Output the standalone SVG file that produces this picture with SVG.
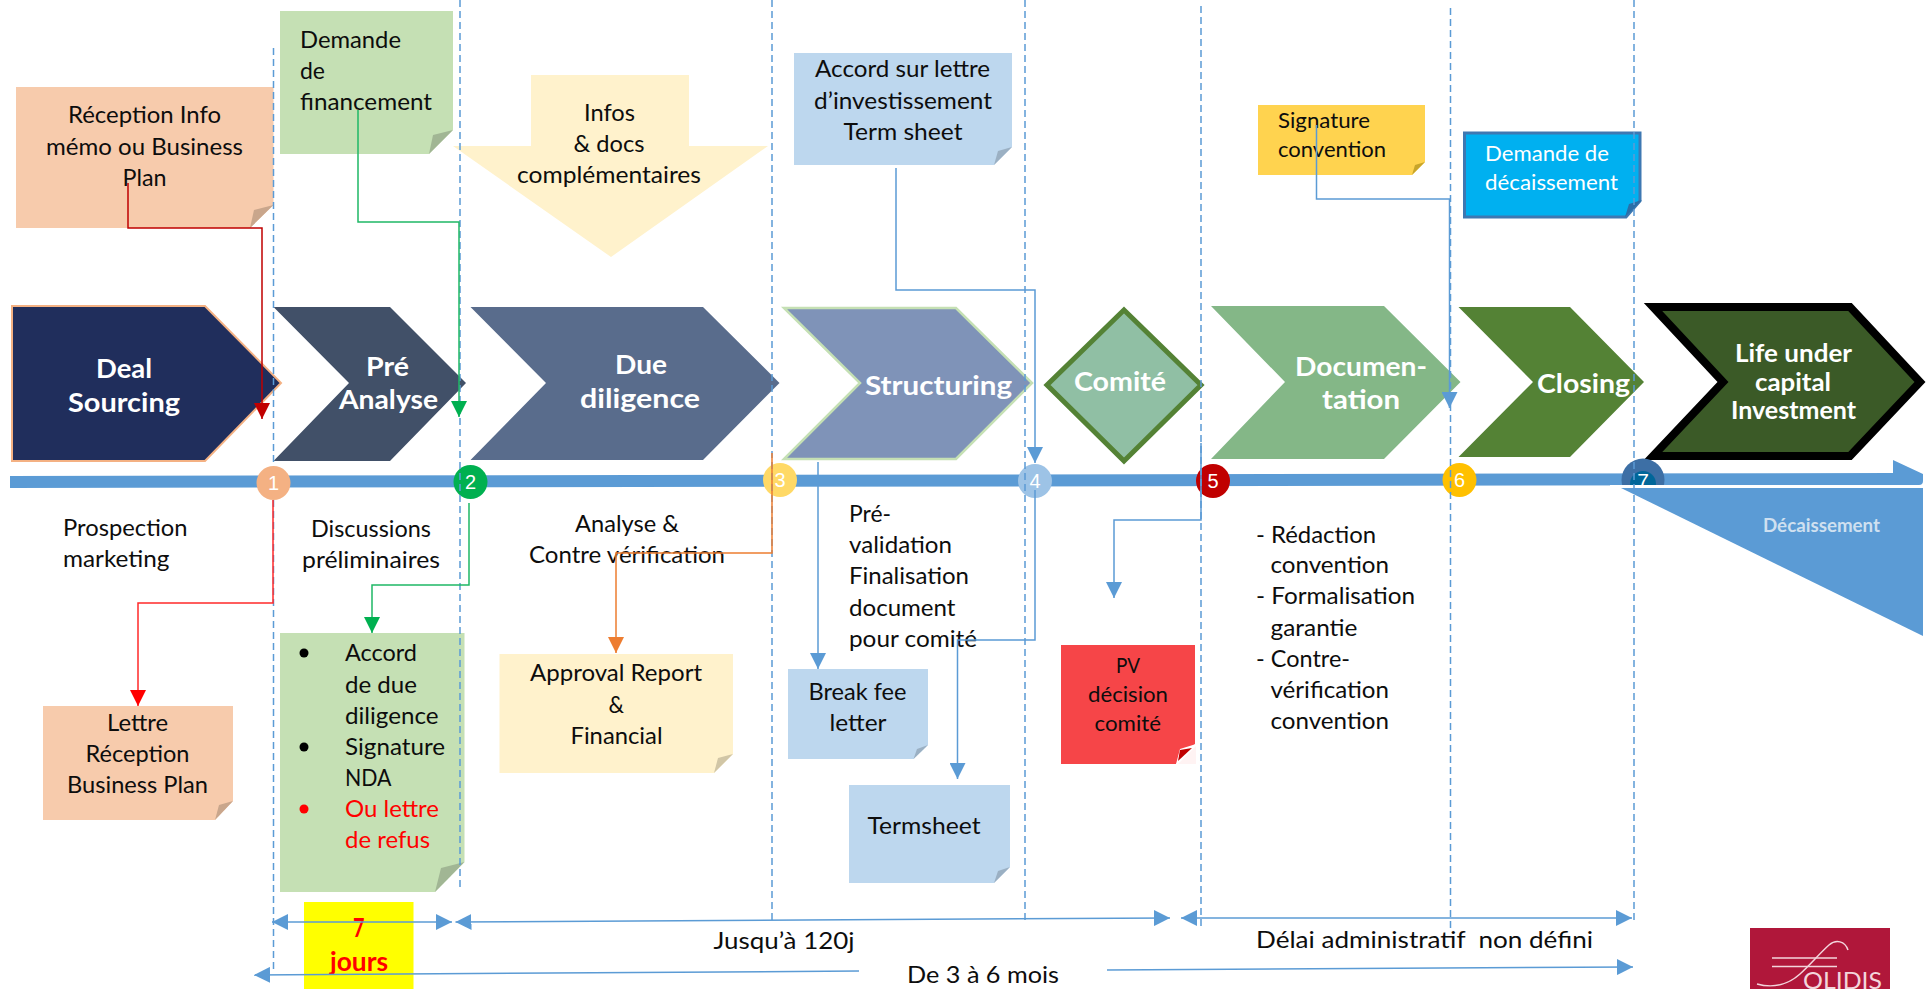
<svg xmlns="http://www.w3.org/2000/svg" width="1928" height="989" viewBox="0 0 1928 989">
<style>
text{font-family:Lato,"Noto Sans","Liberation Sans",sans-serif;font-size:24px;fill:#0d0d0d;white-space:pre}
.c{font-weight:700;font-size:27px;fill:#fff}
.n{font-family:"Liberation Sans",Arial,sans-serif;font-size:20px;fill:#fff;text-anchor:middle}
.v{fill:none;stroke:#5b9bd5;stroke-width:1.5;stroke-dasharray:7 4}
.l{fill:none;stroke:#5b9bd5;stroke-width:1.5}
.peach{fill:#f7cbac}.pf{fill:#c9a68c}
.green{fill:#c5e0b4}.gf{fill:#a1b694}
.blue{fill:#bdd7ee}.bf{fill:#9bb0c3}
.cream{fill:#fff2cc}.cf{fill:#d1c6a6}
</style>
<defs>
<marker id="aB" markerUnits="userSpaceOnUse" markerWidth="16" markerHeight="16" refX="16" refY="8" orient="auto-start-reverse"><path d="M0 0L16 8L0 16Z" fill="#5b9bd5"/></marker>
<marker id="aR" markerUnits="userSpaceOnUse" markerWidth="16" markerHeight="16" refX="16" refY="8" orient="auto"><path d="M0 0L16 8L0 16Z" fill="#ff0000"/></marker>
<marker id="aD" markerUnits="userSpaceOnUse" markerWidth="16" markerHeight="16" refX="16" refY="8" orient="auto"><path d="M0 0L16 8L0 16Z" fill="#c00000"/></marker>
<marker id="aG" markerUnits="userSpaceOnUse" markerWidth="16" markerHeight="16" refX="16" refY="8" orient="auto"><path d="M0 0L16 8L0 16Z" fill="#00b050"/></marker>
<marker id="aO" markerUnits="userSpaceOnUse" markerWidth="16" markerHeight="16" refX="16" refY="8" orient="auto"><path d="M0 0L16 8L0 16Z" fill="#ed7d31"/></marker>
</defs>
<rect width="1928" height="989" fill="#fff"/>

<g id="note-reception"><polygon class="peach" points="16,87 273.5,87 273.5,205 250,228 16,228"/><polygon class="pf" points="273.5,205 254,210 250,228"/>
<text x="68" y="123" textLength="153" lengthAdjust="spacingAndGlyphs">Réception Info</text><text x="46" y="155" textLength="197" lengthAdjust="spacingAndGlyphs">mémo ou Business</text><text x="122.500" y="186" textLength="44" lengthAdjust="spacingAndGlyphs">Plan</text></g>
<g id="note-demande"><polygon class="green" points="280,11 453,11 453,130 429,154 280,154"/><polygon class="gf" points="453,130 433,135 429,154"/>
<text x="300" y="48" textLength="101" lengthAdjust="spacingAndGlyphs">Demande</text><text x="300" y="79" textLength="25" lengthAdjust="spacingAndGlyphs">de</text><text x="300" y="110" textLength="132" lengthAdjust="spacingAndGlyphs">financement</text></g>
<g id="arrow-infos"><polygon points="531,75 689,75 689,146 768,146 611,257 453,146 531,146" fill="#fff2cc"/>
<text x="584" y="121" textLength="51" lengthAdjust="spacingAndGlyphs">Infos</text><text x="573.500" y="152" textLength="71" lengthAdjust="spacingAndGlyphs">&amp; docs</text><text x="517" y="183" textLength="184" lengthAdjust="spacingAndGlyphs">complémentaires</text></g>
<g id="note-accord-lettre"><polygon class="blue" points="794,53 1012,53 1012,147 994,165 794,165"/><polygon class="bf" points="1012,147 998,151 994,165"/>
<text x="815" y="77" textLength="175" lengthAdjust="spacingAndGlyphs">Accord sur lettre</text><text x="814" y="109" textLength="178" lengthAdjust="spacingAndGlyphs">d’investissement</text><text x="843.500" y="140" textLength="119" lengthAdjust="spacingAndGlyphs">Term sheet</text></g>
<g id="note-signature"><polygon points="1258,105 1425,105 1425,162 1412,175 1258,175" fill="#ffd34f"/><polygon points="1425,162 1415,165 1412,175" fill="#c8a52a"/>
<text x="1278" y="128" style="font-size:22px" textLength="92" lengthAdjust="spacingAndGlyphs">Signature</text><text x="1278" y="157" style="font-size:22px" textLength="108" lengthAdjust="spacingAndGlyphs">convention</text></g>
<g id="note-decaissement"><polygon points="1464.500,133 1640,133 1640,201 1626,217 1464.500,217" fill="#00b0f0" stroke="#3e78b2" stroke-width="3"/><polygon points="1642,200 1629,204 1625,217" fill="#2a6fa8"/>
<text x="1485" y="161" style="font-size:22px;fill:#fff" textLength="124" lengthAdjust="spacingAndGlyphs">Demande de</text><text x="1485" y="190" style="font-size:22px;fill:#fff" textLength="133" lengthAdjust="spacingAndGlyphs">décaissement</text></g>

<g id="step-deal"><polygon points="12,306 205,306 281,383 205,461 12,461" fill="#202e5c" stroke="#f4b183" stroke-width="2"/>
<text class="c" x="96" y="378" textLength="56" lengthAdjust="spacingAndGlyphs">Deal</text><text class="c" x="68" y="412" textLength="112" lengthAdjust="spacingAndGlyphs">Sourcing</text></g>
<g id="step-pre"><polygon points="273.500,307 390,307 466,383 390,461 273.500,461 349,383" fill="#415068"/>
<text class="c" x="366" y="376" textLength="43" lengthAdjust="spacingAndGlyphs">Pré</text><text class="c" x="339" y="409" textLength="99" lengthAdjust="spacingAndGlyphs">Analyse</text></g>
<g id="step-due"><polygon points="470.500,307 703,307 779.500,383 703,460 470.500,460 546,383" fill="#596c8c"/>
<text class="c" x="615" y="374" textLength="52" lengthAdjust="spacingAndGlyphs">Due</text><text class="c" x="580" y="408" textLength="120" lengthAdjust="spacingAndGlyphs">diligence</text></g>
<g id="step-structuring"><polygon points="784,308 956,308 1032,383 956,459 784,459 860,383" fill="#7f93b8" stroke="#c5e0b4" stroke-width="2.500"/>
<text class="c" x="865" y="395" textLength="147" lengthAdjust="spacingAndGlyphs">Structuring</text></g>
<g id="step-comite"><polygon points="1124,310 1201,385 1124,461 1047,385" fill="#90bfa4" stroke="#548235" stroke-width="5"/>
<text class="c" x="1074" y="391" textLength="92" lengthAdjust="spacingAndGlyphs">Comité</text></g>
<g id="step-documentation"><polygon points="1211,306 1384,306 1460.500,382 1384,459 1211,459 1285,382" fill="#84b787"/>
<text class="c" x="1295" y="376" textLength="132" lengthAdjust="spacingAndGlyphs">Documen-</text><text class="c" x="1322" y="409" textLength="78" lengthAdjust="spacingAndGlyphs">tation</text></g>
<g id="step-closing"><polygon points="1458.500,307 1570,307 1644,382 1570,457 1458.500,457 1533,382" fill="#548235"/>
<text class="c" x="1537" y="393" textLength="93" lengthAdjust="spacingAndGlyphs">Closing</text></g>
<g id="step-life"><polygon points="1653,307 1850,307 1920,382 1850,456 1653,456 1723,382" fill="#3b5a27" stroke="#000" stroke-width="8"/>
<text class="c" style="font-size:24px" x="1735" y="362" textLength="117" lengthAdjust="spacingAndGlyphs">Life under</text><text class="c" style="font-size:24px" x="1755" y="391" textLength="76" lengthAdjust="spacingAndGlyphs">capital</text><text class="c" style="font-size:24px" x="1731" y="419" textLength="125" lengthAdjust="spacingAndGlyphs">Investment</text></g>

<g id="timeline"><path d="M10 476L1893 473V460L1923 474V481Q1923 485 1919 485L10 488Z" fill="#5b9bd5"/></g>
<g id="m1"><circle cx="273.500" cy="483" r="17" fill="#f4b183"/><text class="n" x="273.500" y="490">1</text></g>
<g id="m2"><circle cx="470.500" cy="482" r="17" fill="#00b050"/><text class="n" x="470.500" y="489">2</text></g>
<g id="m3"><circle cx="780" cy="480" r="17" fill="#ffd966"/><text class="n" x="780" y="487">3</text></g>
<g id="m4"><circle cx="1035" cy="481" r="17" fill="#9dc3e6"/><text class="n" x="1035" y="488">4</text></g>
<g id="m5"><circle cx="1213" cy="481" r="17" fill="#c00000"/><text class="n" x="1213" y="488">5</text></g>
<g id="m6"><circle cx="1459.500" cy="480" r="17" fill="#ffc000"/><text class="n" x="1459.500" y="487">6</text></g>
<g id="m7"><circle cx="1643" cy="480" r="21.500" fill="#3d6fa5"/><circle cx="1643" cy="484" r="13" fill="#006699"/><text class="n" x="1643" y="488" style="font-size:21px">7</text></g>
<g id="decaissement"><rect x="1610" y="485" width="318" height="3" fill="#fff"/><rect x="1610" y="488" width="318" height="14" fill="#fff"/><polygon points="1621,488 1923,488 1923,636" fill="#5b9bd5"/>
<text x="1763" y="532" style="font-size:18px;font-weight:700;fill:#cfe0f0" textLength="117" lengthAdjust="spacingAndGlyphs">Décaissement</text></g>

<g id="texts">
<text x="63" y="536" textLength="124.500" lengthAdjust="spacingAndGlyphs">Prospection</text><text x="63" y="567" textLength="106.500" lengthAdjust="spacingAndGlyphs">marketing</text>
<text x="311" y="537" textLength="120" lengthAdjust="spacingAndGlyphs">Discussions</text><text x="302" y="568" textLength="138" lengthAdjust="spacingAndGlyphs">préliminaires</text>
<text x="575" y="532" textLength="104" lengthAdjust="spacingAndGlyphs">Analyse &amp;</text><text x="529" y="563" textLength="196" lengthAdjust="spacingAndGlyphs">Contre vérification</text>
<text x="849" y="522" textLength="42" lengthAdjust="spacingAndGlyphs">Pré-</text><text x="849" y="553" textLength="103" lengthAdjust="spacingAndGlyphs">validation</text><text x="849" y="584" textLength="120" lengthAdjust="spacingAndGlyphs">Finalisation</text><text x="849" y="616" textLength="106.500" lengthAdjust="spacingAndGlyphs">document</text><text x="849" y="647" textLength="128" lengthAdjust="spacingAndGlyphs">pour comité</text>
<text x="1256" y="543" textLength="120" lengthAdjust="spacingAndGlyphs">- Rédaction</text><text x="1270.500" y="573" textLength="118.500" lengthAdjust="spacingAndGlyphs">convention</text><text x="1256" y="604" textLength="159" lengthAdjust="spacingAndGlyphs">- Formalisation</text><text x="1270.500" y="636" textLength="87" lengthAdjust="spacingAndGlyphs">garantie</text><text x="1256" y="667" textLength="94" lengthAdjust="spacingAndGlyphs">- Contre-</text><text x="1270.500" y="698" textLength="118.500" lengthAdjust="spacingAndGlyphs">vérification</text><text x="1270.500" y="729" textLength="118.500" lengthAdjust="spacingAndGlyphs">convention</text>
<text x="713.500" y="949" textLength="141" lengthAdjust="spacingAndGlyphs">Jusqu’à 120j</text>
<text x="907" y="983" textLength="152" lengthAdjust="spacingAndGlyphs">De 3 à 6 mois</text>
<text x="1256" y="948" textLength="337" lengthAdjust="spacingAndGlyphs">Délai administratif  non défini</text>
</g>

<g id="note-lettre"><polygon class="peach" points="43,706 233,706 233,801 215,820 43,820"/><polygon class="pf" points="233,801 219,805 215,820"/>
<text x="107" y="731" textLength="61" lengthAdjust="spacingAndGlyphs">Lettre</text><text x="85.500" y="762" textLength="104" lengthAdjust="spacingAndGlyphs">Réception</text><text x="67" y="793" textLength="141" lengthAdjust="spacingAndGlyphs">Business Plan</text></g>
<g id="note-accord"><polygon class="green" points="280,633 464.500,633 464.500,862 435,892 280,892"/><polygon class="gf" points="464.500,862 441,868 435,892"/>
<circle cx="304" cy="653" r="4.500" fill="#000"/><circle cx="304" cy="747" r="4.500" fill="#000"/><circle cx="304" cy="809" r="4.500" fill="#ff0000"/>
<text x="345" y="661" textLength="72" lengthAdjust="spacingAndGlyphs">Accord</text><text x="345" y="693" textLength="72" lengthAdjust="spacingAndGlyphs">de due</text><text x="345" y="724" textLength="93.500" lengthAdjust="spacingAndGlyphs">diligence</text><text x="345" y="755" textLength="100" lengthAdjust="spacingAndGlyphs">Signature</text><text x="345" y="786" textLength="46.500" lengthAdjust="spacingAndGlyphs">NDA</text><text x="345" y="817" style="fill:#ff0000" textLength="94" lengthAdjust="spacingAndGlyphs">Ou lettre</text><text x="345" y="848" style="fill:#ff0000" textLength="85" lengthAdjust="spacingAndGlyphs">de refus</text></g>
<g id="note-approval"><polygon class="cream" points="499.500,654 733,654 733,754 714,773 499.500,773"/><polygon class="cf" points="733,754 718,758 714,773"/>
<text x="530" y="681" textLength="172" lengthAdjust="spacingAndGlyphs">Approval Report</text><text x="608.500" y="713" textLength="15.500" lengthAdjust="spacingAndGlyphs">&amp;</text><text x="570.500" y="744" textLength="92" lengthAdjust="spacingAndGlyphs">Financial</text></g>
<g id="note-breakfee"><polygon class="blue" points="788,669 928,669 928,745 913.500,759 788,759"/><polygon class="bf" points="928,745 917,749 913.500,759"/>
<text x="808.500" y="700" textLength="98" lengthAdjust="spacingAndGlyphs">Break fee</text><text x="829.500" y="731" textLength="57" lengthAdjust="spacingAndGlyphs">letter</text></g>
<g id="note-termsheet"><polygon class="blue" points="849,785 1010,785 1010,867 994,883 849,883"/><polygon class="bf" points="1010,867 998,871 994,883"/>
<text x="867.500" y="834" textLength="113" lengthAdjust="spacingAndGlyphs">Termsheet</text></g>
<g id="note-pv"><polygon points="1196,744 1196,764 1176,764" fill="#fff3f3"/><polygon points="1061,645 1195,645 1195,744 1176,764 1061,764" fill="#f64548"/><polygon points="1196,744 1196,746 1178,764 1176,764 1180,749" fill="#fff"/><polygon points="1192,748 1180,750 1178,761" fill="#c00000"/>
<text x="1116" y="673" style="font-size:22px" textLength="24" lengthAdjust="spacingAndGlyphs">PV</text><text x="1088" y="702" style="font-size:22px" textLength="80" lengthAdjust="spacingAndGlyphs">décision</text><text x="1094.500" y="731" style="font-size:22px" textLength="66.500" lengthAdjust="spacingAndGlyphs">comité</text></g>
<g id="note-sept-jours"><rect x="304" y="902" width="109.500" height="87" fill="#ffff00"/>
<text x="353" y="937" style="font-weight:700;fill:#ff0000;font-size:26px" textLength="11.500" lengthAdjust="spacingAndGlyphs">7</text><text x="330" y="971" style="font-weight:700;fill:#ff0000;font-size:26px" textLength="58" lengthAdjust="spacingAndGlyphs">jours</text></g>
<g id="logo"><rect x="1750" y="928" width="140" height="61" fill="#b0173a"/><path d="M1772 958H1837M1772 966.500H1837" stroke="#f3d5dc" stroke-width="1.500" fill="none"/>
<path d="M1848 950C1845 941 1836 939 1829 945C1820 953 1810 965 1800 974C1790 983 1775 989 1757 984" stroke="#f3d5dc" stroke-width="1.500" fill="none"/>
<text x="1803" y="988.500" style="font-size:23px;fill:#f3d5dc" textLength="79" lengthAdjust="spacingAndGlyphs">OLIDIS</text></g>

<g id="guides">
<path class="v" d="M273.500 48V466"/><path class="v" d="M273.500 500V970"/><path class="v" d="M460 0V891"/><path class="v" d="M772 0V922"/><path class="v" d="M1025 0V922"/><path class="v" d="M1201 6V927"/><path class="v" d="M1450.500 8V928"/><path class="v" d="M1634 0V922"/>
</g>
<g id="connectors" fill="none" stroke-width="1.500">
<path d="M128 183V228H262V419" stroke="#c00000" marker-end="url(#aD)"/>
<path d="M358 110V222H459V417" stroke="#1fb866" marker-end="url(#aG)"/>
<path d="M273 500V603H138V706" stroke="#ff2a2a" marker-end="url(#aR)"/>
<path d="M469 503V585H372V633" stroke="#1fb866" marker-end="url(#aG)"/>
<path d="M772 453V553H616V653" stroke="#ed7d31" marker-end="url(#aO)"/>
<path class="l" d="M896 168V290H1035V463" marker-end="url(#aB)"/>
<path class="l" d="M1316.500 125V199H1449.500V408" marker-end="url(#aB)"/>
<path class="l" d="M818 462V669" marker-end="url(#aB)"/>
<path class="l" d="M1035 490V640H957.500V779" marker-end="url(#aB)"/>
<path class="l" d="M1201 443V520H1114V598" marker-end="url(#aB)"/>
<path class="l" d="M272 922H452" marker-start="url(#aB)" marker-end="url(#aB)"/>
<path class="l" d="M455.500 922L1170 918" marker-start="url(#aB)" marker-end="url(#aB)"/>
<path class="l" d="M1181 918H1632" marker-start="url(#aB)" marker-end="url(#aB)"/>
<path class="l" d="M859 971L254 975" marker-end="url(#aB)"/>
<path class="l" d="M1107 970L1633 967" marker-end="url(#aB)"/>
</g>
</svg>
